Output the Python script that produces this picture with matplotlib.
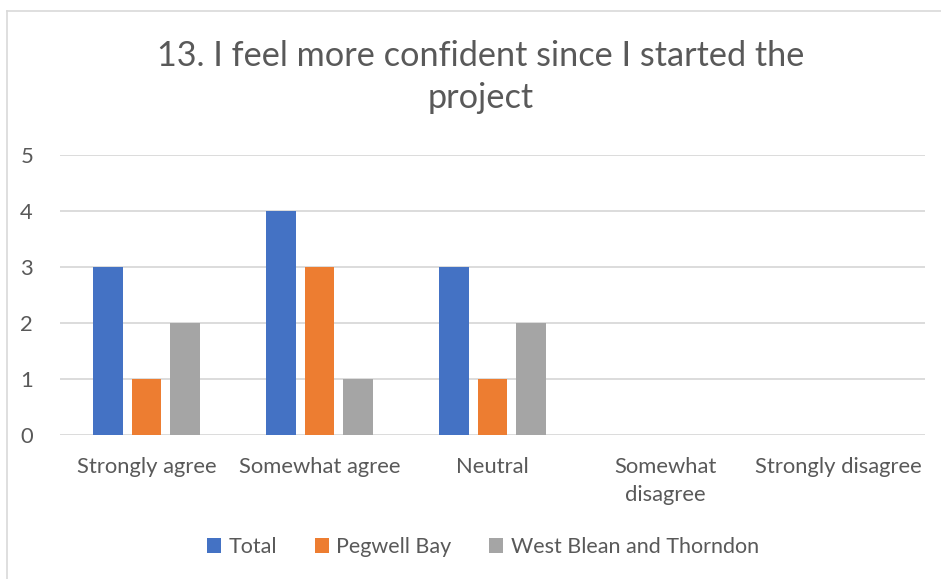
import numpy as np
import matplotlib.pyplot as plt
from matplotlib.lines import Line2D

categories = ["Strongly agree", "Somewhat agree", "Neutral", "Somewhat\ndisagree", "Strongly disagree"]
total = [3, 4, 3, 0, 0]
pegwell = [1, 3, 1, 0, 0]
west_blean = [2, 1, 2, 0, 0]
series_names = ["Total", "Pegwell Bay", "West Blean and Thorndon"]
colors = ["#4472C4", "#ED7D31", "#A5A5A5"]
yticks = [0, 1, 2, 3, 4, 5]

text_color = "#595959"
plt.rcParams['font.family'] = ['Lato', 'DejaVu Sans']

fig = plt.figure(figsize=(9.41, 5.79), dpi=100)
ax = fig.add_axes([60 / 941, 1 - 435 / 579, 865 / 941, 280 / 579])

x = np.arange(len(categories))
width = 0.173
offset = 0.222
for i, (vals, name, col) in enumerate(zip([total, pegwell, west_blean], series_names, colors)):
    ax.bar(x + (i - 1) * offset, vals, width, color=col, label=name, zorder=3)

ax.set_xlim(-0.5, len(categories) - 0.5)
ax.set_ylim(0, 5)
ax.set_yticks(yticks)
ax.set_xticks(x)
ax.set_xticklabels(categories, linespacing=1.5)
ax.tick_params(axis='both', length=0, labelsize=15.8, colors=text_color)
ax.tick_params(axis='y', pad=24)
ax.tick_params(axis='x', pad=16)
for lbl in ax.get_yticklabels():
    lbl.set_horizontalalignment('center')
ax.grid(axis='y', color="#D9D9D9", linewidth=1.3, zorder=0)
for s in ax.spines.values():
    s.set_visible(False)

fig.text(0.511, 1 - 77 / 579, "13. I feel more confident since I started the\nproject",
         ha='center', va='center', fontsize=24.7, color=text_color, linespacing=1.42)

leg = fig.legend(loc='center', bbox_to_anchor=(0.513, 1 - 547 / 579), ncol=3, frameon=False,
                 fontsize=15.5, handlelength=0.65, handleheight=0.65, handletextpad=0.35,
                 columnspacing=1.75)
for t in leg.get_texts():
    t.set_color(text_color)

# chart border (left and top edges visible)
fig.add_artist(Line2D([7 / 941, 7 / 941], [0, 1 - 11 / 579], transform=fig.transFigure,
                      color="#D9D9D9", linewidth=1.2))
fig.add_artist(Line2D([7 / 941, 1], [1 - 11 / 579, 1 - 11 / 579], transform=fig.transFigure,
                      color="#D9D9D9", linewidth=1.2))

fig.savefig("out.png", dpi=100)
